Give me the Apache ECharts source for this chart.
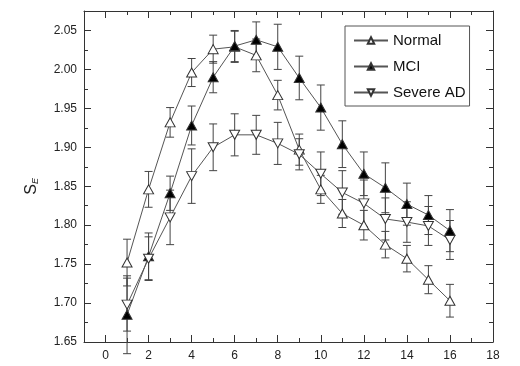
<!DOCTYPE html>
<html><head><meta charset="utf-8">
<script src="https://cdn.jsdelivr.net/npm/echarts@6/dist/echarts.min.js"></script>
<style>html,body{margin:0;padding:0;background:#fff}#c{width:520px;height:366px}</style>
</head><body><div id="c"></div>
<script>
const xValues = [1,2,3,4,5,6,7,8,9,10,11,12,13,14,15,16];
const normal = [1.752,1.846,1.932,1.996,2.026,2.029,2.018,1.967,1.897,1.846,1.815,1.800,1.775,1.757,1.730,1.703];
const normalErr = [0.030,0.023,0.019,0.018,0.018,0.020,0.021,0.019,0.020,0.018,0.018,0.019,0.017,0.017,0.018,0.021];
const mci = [1.685,1.760,1.841,1.928,1.990,2.030,2.038,2.029,1.989,1.951,1.904,1.866,1.848,1.827,1.813,1.793];
const mciErr = [0.050,0.030,0.022,0.025,0.020,0.020,0.023,0.029,0.028,0.029,0.030,0.028,0.032,0.027,0.025,0.027];
const severe = [1.698,1.757,1.810,1.863,1.900,1.916,1.916,1.905,1.891,1.866,1.842,1.828,1.808,1.804,1.799,1.781];
const severeErr = [0.034,0.028,0.035,0.035,0.030,0.027,0.025,0.027,0.020,0.028,0.028,0.030,0.027,0.026,0.025,0.025];
const xMajor = [0,2,4,6,8,10,12,14,16,18];
const xMinor = [-1,1,3,5,7,9,11,13,15,17];
const yMajor = [1.65,1.70,1.75,1.80,1.85,1.90,1.95,2.00,2.05];
const yMinor = [1.675,1.725,1.775,1.825,1.875,1.925,1.975,2.025];

const FONT = 'Liberation Sans';
const AX = '#333';
function xa(pos, ticks, len, label, line){
  return {type:'value', position:pos, min:-1, max:18,
    axisLine:{show:line, onZero:false, lineStyle:{color:AX,width:1}},
    axisTick:{show:true, inside:true, length:len, customValues:ticks, lineStyle:{color:AX}},
    axisLabel:{show:label, customValues:xMajor, fontFamily:FONT, fontSize:12, color:'#222', margin:8},
    splitLine:{show:false}};
}
function ya(pos, ticks, len, label, line){
  return {type:'value', position:pos, min:1.65, max:2.075,
    axisLine:{show:line, onZero:false, lineStyle:{color:AX,width:1}},
    axisTick:{show:true, inside:true, length:len, customValues:ticks, lineStyle:{color:AX}},
    axisLabel:{show:label, customValues:yMajor, fontFamily:FONT, fontSize:12, color:'#222', margin:7,
      formatter:v=>v.toFixed(2)},
    splitLine:{show:false}};
}
function pairs(vals){ return xValues.map((x,i)=>[x, vals[i]]); }
function errSeries(vals, errs){
  return {type:'custom', xAxisIndex:0, yAxisIndex:0, z:1, silent:true,
    data: xValues.map((x,i)=>[x, vals[i]-errs[i], vals[i]+errs[i]]),
    renderItem:function(params, api){
      const lo = api.coord([api.value(0), api.value(1)]);
      const hi = api.coord([api.value(0), api.value(2)]);
      const w = 4;
      const st = {stroke:'#444', lineWidth:1};
      return {type:'group', children:[
        {type:'line', shape:{x1:lo[0],y1:lo[1],x2:hi[0],y2:hi[1]}, style:st},
        {type:'line', shape:{x1:lo[0]-w,y1:lo[1],x2:lo[0]+w,y2:lo[1]}, style:st},
        {type:'line', shape:{x1:hi[0]-w,y1:hi[1],x2:hi[0]+w,y2:hi[1]}, style:st}
      ]};
    }};
}
function lineSeries(name, vals, fill, rot){
  return {name:name, type:'line', xAxisIndex:0, yAxisIndex:0, z:3, data:pairs(vals),
    symbol:'triangle', symbolSize:[10,9], symbolRotate:rot, showAllSymbol:true,
    lineStyle:{color:'#555', width:1},
    itemStyle:{color:fill, borderColor:'#333', borderWidth:1}};
}
const chart = echarts.init(document.getElementById('c'), null, {renderer:'canvas'});
chart.setOption({
  animation:false,
  backgroundColor:'#fff',
  grid:{left:84, top:11, right:27, bottom:24},
  xAxis:[xa('bottom', xMajor, 7, true, true), xa('bottom', xMinor, 4, false, false),
         xa('top', xMajor, 7, false, true), xa('top', xMinor, 4, false, false)],
  yAxis:[ya('left', yMajor, 7, true, true), ya('left', yMinor, 4, false, false),
         ya('right', yMajor, 7, false, true), ya('right', yMinor, 4, false, false)],
  legend:{data:['Normal','MCI','Severe AD'], left:345, top:26, orient:'vertical',
    itemWidth:34, itemHeight:8, itemGap:11, padding:[7,4,6,8],
    borderColor:'#555', borderWidth:1, backgroundColor:'#fff',
    textStyle:{fontFamily:FONT, fontSize:15, color:'#111'}},
  graphic:[{type:'text', left:24, top:178, rotation:Math.PI/2,
    style:{text:'{s|S}{e|E}', rich:{s:{fontFamily:FONT, fontSize:16, fill:'#222'},
      e:{fontFamily:FONT, fontSize:9, fontStyle:'italic', fill:'#222', verticalAlign:'bottom', padding:[6,0,0,0]}}}}],
  series:[
    errSeries(normal, normalErr), errSeries(mci, mciErr), errSeries(severe, severeErr),
    lineSeries('Normal', normal, '#fff', 0),
    lineSeries('MCI', mci, '#000', 0),
    lineSeries('Severe AD', severe, '#fff', 180)
  ]
});
</script></body></html>
